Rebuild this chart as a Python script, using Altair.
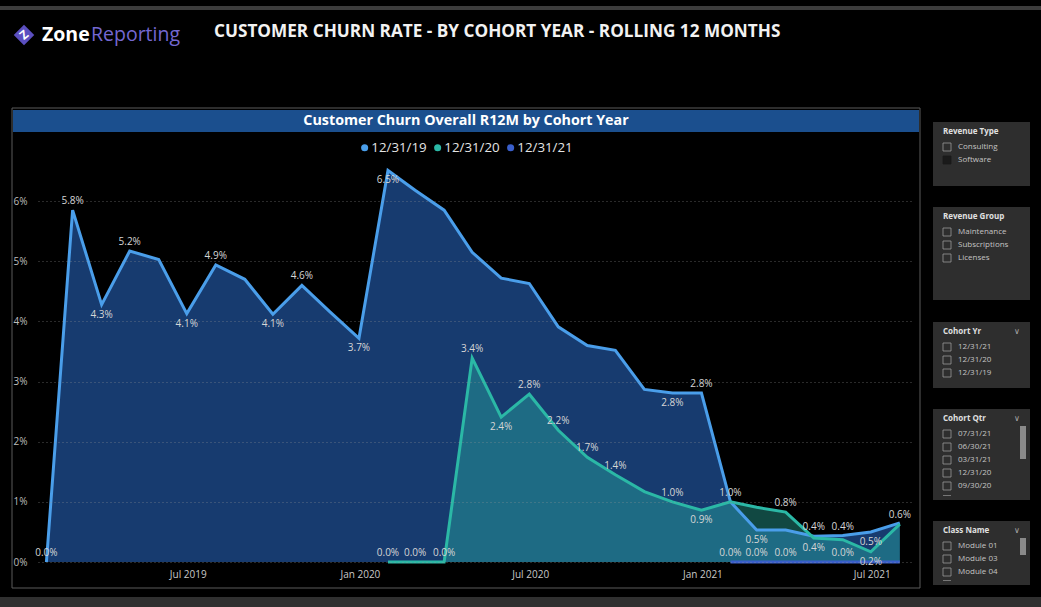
import altair as alt
import pandas as pd

# ------------------------------------------------------------------ data
cohorts = ["12/31/19", "12/31/20", "12/31/21"]

dates_19 = ["2019-01-31", "2019-02-28", "2019-03-31", "2019-04-30", "2019-05-31", "2019-06-30",
            "2019-07-31", "2019-08-31", "2019-09-30", "2019-10-31", "2019-11-30", "2019-12-31",
            "2020-01-31", "2020-02-29", "2020-03-31", "2020-04-30", "2020-05-31", "2020-06-30",
            "2020-07-31", "2020-08-31", "2020-09-30", "2020-10-31", "2020-11-30", "2020-12-31",
            "2021-01-31", "2021-02-28", "2021-03-31", "2021-04-30", "2021-05-31", "2021-06-30",
            "2021-07-31"]
churn_19 = [0.0, 5.85, 4.28, 5.17, 5.03, 4.13, 4.94, 4.70, 4.12, 4.60, 4.16, 3.72,
            6.51, 6.18, 5.85, 5.15, 4.72, 4.63, 3.91, 3.60, 3.52, 2.87, 2.81, 2.81,
            1.00, 0.53, 0.53, 0.43, 0.44, 0.50, 0.65]
label_19 = ["above", "above", "below", "above", "", "below", "above", "", "below", "above", "", "below",
            "below", "", "", "", "", "", "", "", "", "", "below", "above",
            "above", "below", "", "above", "above", "below", ""]

dates_20 = ["2020-01-31", "2020-02-29", "2020-03-31", "2020-04-30", "2020-05-31", "2020-06-30",
            "2020-07-31", "2020-08-31", "2020-09-30", "2020-10-31", "2020-11-30", "2020-12-31",
            "2021-01-31", "2021-02-28", "2021-03-31", "2021-04-30", "2021-05-31", "2021-06-30",
            "2021-07-31"]
churn_20 = [0.0, 0.0, 0.0, 3.39, 2.41, 2.79, 2.19, 1.74, 1.45, 1.17, 1.00, 0.86,
            1.00, 0.91, 0.83, 0.40, 0.37, 0.17, 0.63]
label_20 = ["above", "above", "above", "above", "below", "above", "above", "above", "above", "", "above", "below",
            "", "", "above", "below", "", "below", "above"]

dates_21 = ["2021-01-31", "2021-02-28", "2021-03-31", "2021-04-30", "2021-05-31", "2021-06-30", "2021-07-31"]
churn_21 = [0.0, 0.0, 0.0, 0.0, 0.0, 0.0, 0.0]
label_21 = ["above", "above", "above", "", "above", "", ""]

y_ticks = [0, 1, 2, 3, 4, 5, 6]
x_ticks = [(2019, 7), (2020, 1), (2020, 7), (2021, 1), (2021, 7)]

slicers = [
    ("Revenue Type", ["Consulting", "Software"]),
    ("Revenue Group", ["Maintenance", "Subscriptions", "Licenses"]),
    ("Cohort Yr", ["12/31/21", "12/31/20", "12/31/19"]),
    ("Cohort Qtr", ["07/31/21", "06/30/21", "03/31/21", "12/31/20", "09/30/20"]),
    ("Class Name", ["Module 01", "Module 03", "Module 04"]),
]

frames = []
for c, d, v, l in [(cohorts[0], dates_19, churn_19, label_19),
                   (cohorts[1], dates_20, churn_20, label_20),
                   (cohorts[2], dates_21, churn_21, label_21)]:
    frames.append(pd.DataFrame({"cohort": c, "date": pd.to_datetime(d), "churn": v, "pos": l}))
df = pd.concat(frames, ignore_index=True)

# ------------------------------------------------------------------ layout
PL, PT, W, H = 38, 147, 874, 415
FONT = "Open Sans"
LINE_COLORS = ["#4A9EEA", "#2BB8A6", "#3A5FCB"]

x_enc = alt.X("date:T",
              scale=alt.Scale(domain=[alt.DateTime(year=2019, month=1, date=22),
                                      alt.DateTime(year=2021, month=8, date=13)]),
              axis=alt.Axis(values=[alt.DateTime(year=y, month=m, date=1) for y, m in x_ticks],
                            format="%b %Y", grid=False, domain=False, ticks=False,
                            labelColor="#c8c8c8", labelFontSize=10, labelFont=FONT,
                            labelPadding=7, title=None, labelFlush=False))
y_enc = alt.Y("churn:Q",
              scale=alt.Scale(domain=[0, 6.9], nice=False, zero=True),
              axis=alt.Axis(values=y_ticks, labelExpr="datum.value + '%'", grid=True,
                            gridDash=[1, 3], gridColor="#9a9a9a", gridOpacity=0.55, gridWidth=1,
                            domain=False, ticks=False, labelColor="#bdbdbd", labelFontSize=10,
                            labelFont=FONT, labelPadding=11, title=None, zindex=1))

base = alt.Chart(df)


def series(c):
    return base.transform_filter(alt.datum.cohort == c)


area19 = series(cohorts[0]).mark_area(color="#1E4C8E", opacity=0.78).encode(x=x_enc, y=y_enc)
area20 = series(cohorts[1]).mark_area(color="#2BB5A5", opacity=0.4).encode(x=x_enc, y=y_enc)
area21 = series(cohorts[2]).mark_area(color="#3A5FCB", opacity=0.4).encode(x=x_enc, y=y_enc)

lines = [series(c).mark_line(color=col, strokeWidth=3, strokeJoin="miter").encode(x=x_enc, y=y_enc)
         for c, col in zip(cohorts, LINE_COLORS)]

legend_pts = base.mark_point(filled=True, opacity=0).encode(
    x=x_enc, y=y_enc,
    color=alt.Color("cohort:N",
                    scale=alt.Scale(domain=cohorts, range=LINE_COLORS),
                    legend=alt.Legend(orient="none", legendX=320, legendY=-6, direction="horizontal",
                                      title=None, symbolType="circle", symbolSize=50,
                                      symbolOpacity=1, symbolStrokeWidth=0,
                                      labelFontSize=13.3, labelColor="#e4e4e4", labelFont=FONT,
                                      labelOffset=0, columnPadding=4)))

lab = base.transform_filter(alt.datum.pos != "").transform_calculate(
    txt="format(datum.churn, '.1f') + '%'")
labels_above = lab.transform_filter(alt.datum.pos == "above").mark_text(
    dy=-9, fontSize=10, color="#d6d6d6", font=FONT).encode(x=x_enc, y=y_enc, text="txt:N")
labels_below = lab.transform_filter(alt.datum.pos == "below").mark_text(
    dy=10, fontSize=10, color="#d6d6d6", font=FONT).encode(x=x_enc, y=y_enc, text="txt:N")

# ------------------------------------------------------------------ decoration (page chrome)
ONE = alt.Data(values=[{"k": 1}])


def rect(x1, x2, y1, y2, **kw):
    return alt.Chart(ONE).mark_rect(**kw).encode(
        x=alt.value(x1 - PL), x2=alt.value(x2 - PL), y=alt.value(y1 - PT), y2=alt.value(y2 - PT))


def text(x, y, s, **kw):
    kw.setdefault("font", FONT)
    kw.setdefault("baseline", "middle")
    kw.setdefault("align", "left")
    return alt.Chart(ONE).mark_text(**kw).encode(
        x=alt.value(x - PL), y=alt.value(y - PT), text=alt.value(s))


deco_back = [
    rect(0, 1041, 6, 10, color="#3c3c3c"),
    rect(0, 1041, 597, 607, color="#303030"),
    rect(12, 920, 108, 588, fillOpacity=0, stroke="#5a5a5a", strokeWidth=1),
    rect(13, 919, 110, 132, color="#1B4F8E"),
    text(466, 121, "Customer Churn Overall R12M by Cohort Year", align="center",
         fontSize=14.3, fontWeight="bold", color="#ffffff"),
    alt.Chart(ONE).mark_point(shape="diamond", filled=True, size=420, color="#5B4FC0", opacity=1).encode(
        x=alt.value(24 - PL), y=alt.value(35 - PT)),
    text(24, 35, "Z", align="center", fontSize=12, fontWeight="bold", color="#ffffff", angle=320),
    text(42, 35, "Zone", fontSize=19.5, fontWeight="bold", color="#ffffff"),
    text(91, 35, "Reporting", fontSize=19.5, color="#7468D2"),
    text(214, 32, "CUSTOMER CHURN RATE - BY COHORT YEAR - ROLLING 12 MONTHS",
         fontSize=17.2, fontWeight="bold", color="#f2f2f2"),
]

box_tops = [122, 207, 322, 409, 521]
box_bottoms = [186, 300, 388, 500, 585]
for i, (title, items) in enumerate(slicers):
    top, bot = box_tops[i], box_bottoms[i]
    deco_back.append(rect(933, 1030, top, bot, color="#2e2e2e"))
    deco_back.append(text(943, top + 10, title, fontSize=8, fontWeight="bold", color="#e0e0e0"))
    if i >= 2:
        deco_back.append(text(1017, top + 10, "\u2228", align="center", fontSize=8, color="#aaaaaa",
                              font="DejaVu Sans"))
    for j, it in enumerate(items):
        yy = top + 25 + 13 * j
        filled = (title == "Revenue Type" and it == "Software")
        deco_back.append(rect(943, 951, yy - 4, yy + 4,
                              color="#1a1a1a" if filled else "#2e2e2e",
                              stroke="#9a9a9a" if not filled else "#1a1a1a", strokeWidth=0.8))
        deco_back.append(text(958, yy, it, fontSize=8, color="#c4c4c4"))
    if i >= 3:
        deco_back.append(rect(1020, 1026, top + 17, top + (50 if i == 3 else 34), color="#8a8a8a"))
        deco_back.append(rect(943, 951, bot - 5, bot - 4, color="#777777"))

chart = alt.layer(
    *deco_back,
    area19, area20, area21,
    *lines,
    legend_pts,
    labels_above, labels_below,
).properties(
    width=W, height=H,
    autosize=alt.AutoSizeParams(type="none"),
    padding={"left": PL, "top": PT, "right": 1041 - PL - W, "bottom": 607 - PT - H},
    background="#000000",
).configure_view(strokeWidth=0)

chart.save("out.html", embed_options={"renderer": "svg", "actions": False})
